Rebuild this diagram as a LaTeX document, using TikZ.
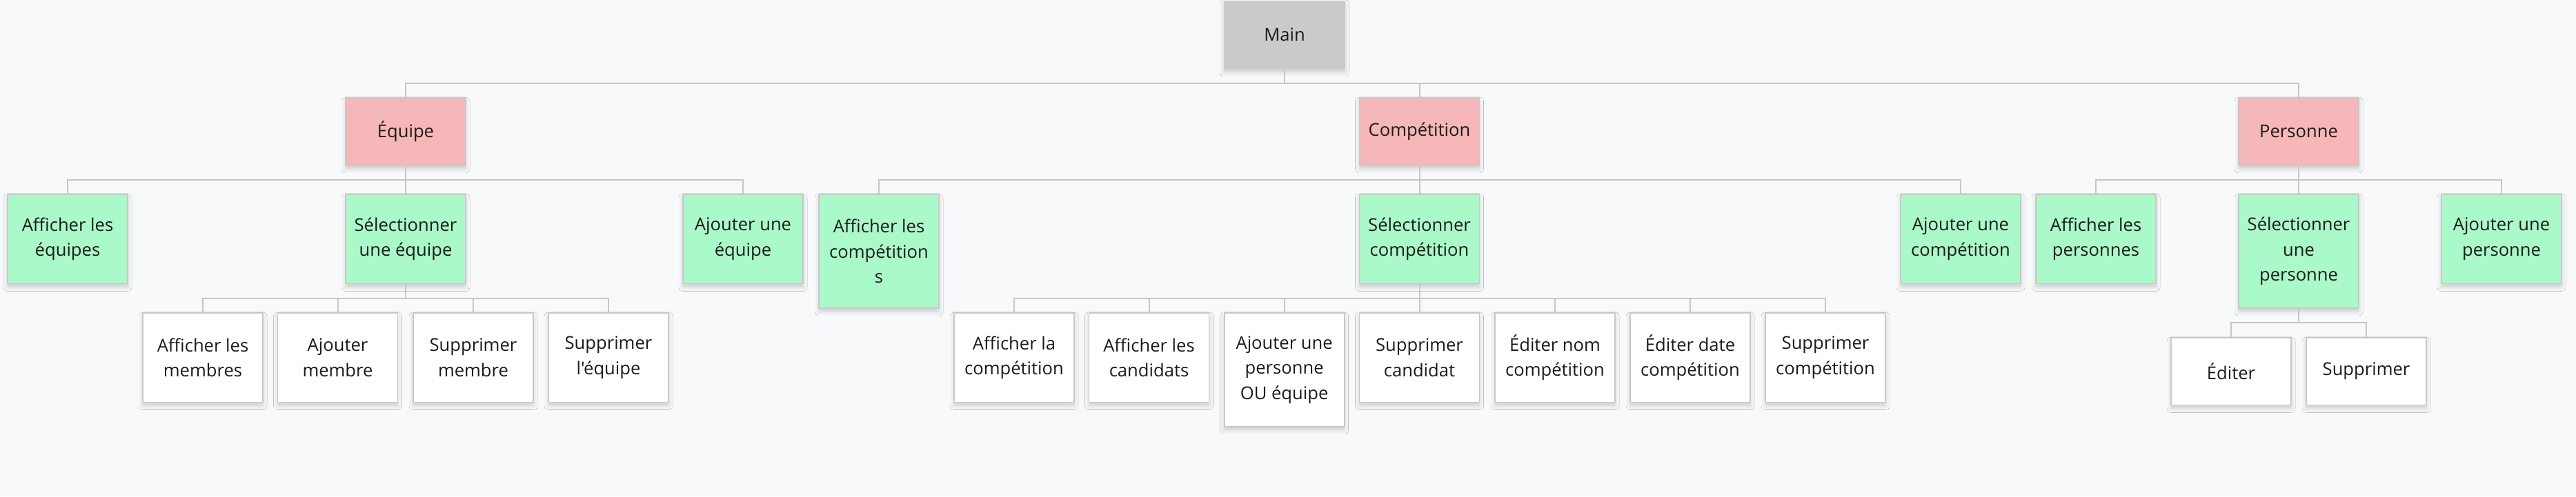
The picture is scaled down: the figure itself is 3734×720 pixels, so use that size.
\documentclass[tikz,border=0pt]{standalone}
\usepackage{fontspec}
\setmainfont{Open Sans}[Ligatures=TeXOff]
\usetikzlibrary{calc,shadows.blur}
\definecolor{bg}{HTML}{F8F9FB}
\definecolor{mainfill}{HTML}{CACACA}
\definecolor{pinkfill}{HTML}{F5B7B7}
\definecolor{greenfill}{HTML}{AAF9C9}
\definecolor{linec}{HTML}{C6C6C6}
\definecolor{boxborder}{HTML}{C8C8C8}
\definecolor{txt}{HTML}{1A1A1A}
\begin{document}
\begin{tikzpicture}[x=0.5pt,y=-0.5pt,
  box/.style={draw=boxborder, line width=0.9pt, anchor=north, minimum width=87pt,
    minimum height=64.75pt, align=center, inner sep=0pt, text=txt,
    font=\fontsize{12.8}{18.2}\selectfont,
    blur shadow={shadow blur steps=6, shadow xshift=0pt, shadow yshift=-2.5pt,
      shadow blur radius=3pt, shadow opacity=18}},
  tall/.style={minimum height=82.5pt},
  short/.style={minimum height=49pt},
  mainbox/.style={box, draw=none, fill=mainfill, minimum width=88pt, minimum height=49.5pt},
  catbox/.style={box, fill=pinkfill, short},
  actbox/.style={box, fill=greenfill},
  subbox/.style={box, fill=white},
  conn/.style={draw=linec, line width=1pt,
    to path={(\tikztostart) -- ($(\tikztostart)!0.5!(\tikztostart|-\tikztotarget)$) -| (\tikztotarget)}}
]
\fill[bg] (0,0) rectangle (3734,720);
\useasboundingbox (0,0) rectangle (3734,720);

% root
\node[mainbox] (main) at (1862,0) {Main};

% level 1
\node[catbox] (equipe) at (588,141) {Équipe};
\node[catbox] (compet) at (2057.5,141) {Compétition};
\node[catbox] (personne) at (3332,141) {Personne};

% level 2
\node[actbox] (aeq) at (98,281) {Afficher les\\équipes};
\node[actbox] (seq) at (588,281) {Sélectionner\\une équipe};
\node[actbox] (ajeq) at (1077,281) {Ajouter une\\équipe};
\node[actbox, tall] (acomp) at (1274,281) {Afficher les\\compétition\\s};
\node[actbox] (scomp) at (2057.5,281) {Sélectionner\\compétition};
\node[actbox] (ajcomp) at (2842,281) {Ajouter une\\compétition};
\node[actbox] (apers) at (3038,281) {Afficher les\\personnes};
\node[actbox, tall] (spers) at (3332,281) {Sélectionner\\une\\personne};
\node[actbox] (ajpers) at (3626,281) {Ajouter une\\personne};

% level 3 - equipe
\node[subbox] (m1) at (294,453) {Afficher les\\membres};
\node[subbox] (m2) at (489.5,453) {Ajouter\\membre};
\node[subbox] (m3) at (686,453) {Supprimer\\membre};
\node[subbox] (m4) at (882,453) {Supprimer\\l'équipe};

% level 3 - competition
\node[subbox] (c1) at (1470,453) {Afficher la\\compétition};
\node[subbox] (c2) at (1665.5,453) {Afficher les\\candidats};
\node[subbox, tall] (c3) at (1861.6,453) {Ajouter une\\personne\\OU équipe};
\node[subbox] (c4) at (2057.5,453) {Supprimer\\candidat};
\node[subbox] (c5) at (2254,453) {Éditer nom\\compétition};
\node[subbox] (c6) at (2450,453) {Éditer date\\compétition};
\node[subbox] (c7) at (2646,453) {Supprimer\\compétition};

% level 3 - personne
\node[subbox, minimum height=48.75pt] (p1) at (3234,489) {Éditer};
\node[subbox, minimum height=48.75pt] (p2) at (3430,489) {Supprimer};

% connectors
\foreach \c in {equipe,compet,personne} \draw[conn] (main.south) to (\c.north);
\foreach \c in {aeq,seq,ajeq} \draw[conn] (equipe.south) to (\c.north);
\foreach \c in {acomp,scomp,ajcomp} \draw[conn] (compet.south) to (\c.north);
\foreach \c in {apers,spers,ajpers} \draw[conn] (personne.south) to (\c.north);
\foreach \c in {m1,m2,m3,m4} \draw[conn] (seq.south) to (\c.north);
\foreach \c in {c1,c2,c3,c4,c5,c6,c7} \draw[conn] (scomp.south) to (\c.north);
\foreach \c in {p1,p2} \draw[conn] (spers.south) to (\c.north);
\end{tikzpicture}
\end{document}
